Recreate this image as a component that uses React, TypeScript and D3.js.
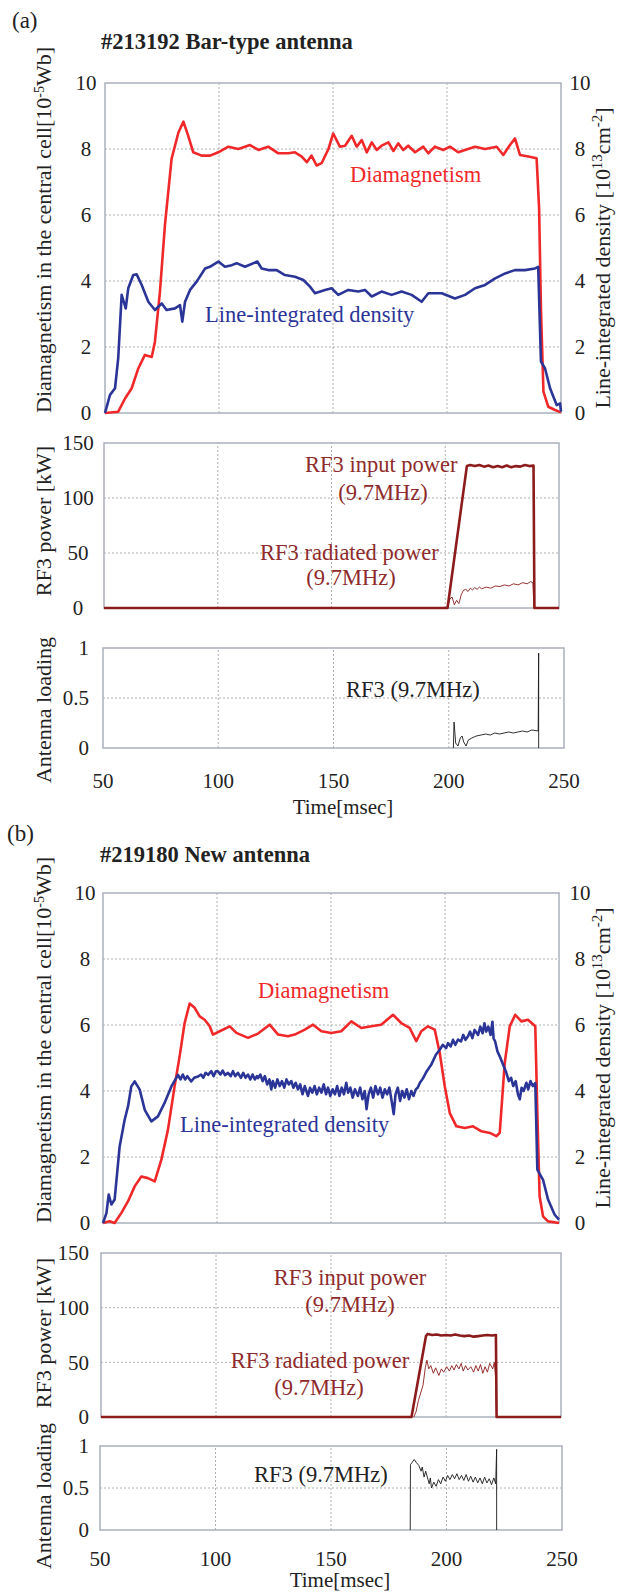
import React from 'react';
import * as d3 from 'd3';

type Pt = [number, number];

// ---- axis ticks ----
const timeTicks = [50, 100, 150, 200, 250];
const fluxTicks = [0, 2, 4, 6, 8, 10];
const powerTicks = [0, 50, 100, 150];
const loadTicks = [0, 0.5, 1];

// ---- (a) #213192 Bar-type antenna ----
const diaA: Pt[] = [
  [50, 0], [55.8, 0.04], [58.8, 0.44], [61.7, 0.75], [64.6, 1.35], [67.5, 1.76], [70.5, 1.7], [71.9, 2.16],
  [74.1, 3.68], [76.3, 5.7], [79.2, 7.7], [82.2, 8.5], [84.4, 8.83], [86.5, 8.4], [88.7, 7.9], [92.4, 7.8],
  [96.1, 7.8], [99.7, 7.9], [104.1, 8.07], [108.5, 8.0], [113.6, 8.12], [117.3, 7.97], [121.6, 8.07], [126, 7.87],
  [130.4, 7.87], [133.3, 7.9], [136.3, 7.77], [138.5, 7.6], [140.6, 7.8], [142.8, 7.5], [145, 7.57], [148, 8.0],
  [150.1, 8.47], [153, 8.07], [155.3, 8.1], [158.2, 8.4], [160.4, 8.07], [162.6, 8.27], [164.8, 7.9], [167, 8.2],
  [169.2, 7.97], [171.3, 8.1], [174.3, 8.2], [176.5, 7.94], [178.6, 8.17], [180.8, 7.97], [183, 8.1], [186, 7.9],
  [189.6, 8.07], [191.8, 7.87], [194.7, 8.07], [198.4, 7.97], [201.3, 8.07], [204.9, 7.9], [207.9, 7.97], [212.3, 8.07],
  [216.7, 8.0], [221.8, 8.07], [224.7, 7.82], [227.6, 8.12], [229.8, 8.32], [232, 7.82], [235.7, 7.77], [239.3, 7.72],
  [240.4, 6.2], [241.2, 3.17], [242.3, 0.65], [244.4, 0.19], [247.4, 0.09], [250, 0.02],
];
const densA: Pt[] = [
  [50, 0], [52.2, 0.55], [54.4, 0.75], [55.8, 1.66], [57.3, 3.58], [59.1, 3.17], [60.2, 3.78], [62.4, 4.18],
  [63.9, 4.2], [66.1, 3.88], [69, 3.37], [71.9, 3.12], [74.9, 3.32], [77, 3.12], [80.7, 3.17], [82.9, 3.27],
  [83.9, 2.77], [85.1, 3.37], [87.3, 3.73], [90.2, 3.98], [93.9, 4.38], [96, 4.43], [99.7, 4.59], [102.6, 4.43],
  [105.6, 4.48], [107.7, 4.54], [111.4, 4.43], [116.8, 4.59], [118.7, 4.38], [121.6, 4.33], [125.3, 4.33], [128.9, 4.18],
  [133.3, 4.13], [137, 4.03], [139.9, 3.83], [142.1, 3.63], [146.5, 3.73], [149.4, 3.78], [152.3, 3.58], [156.7, 3.73],
  [161.1, 3.68], [164, 3.73], [167, 3.53], [171.3, 3.68], [175.7, 3.58], [180.1, 3.68], [184.5, 3.58], [188.9, 3.37],
  [191.8, 3.63], [197.7, 3.63], [203.5, 3.47], [207.9, 3.58], [212.3, 3.78], [216.7, 3.88], [221.1, 4.08], [225.5, 4.23],
  [229.8, 4.33], [234.2, 4.33], [238.6, 4.38], [240, 4.43], [241.2, 1.56], [243, 1.35], [245.2, 0.75], [248.1, 0.24],
  [249.6, 0.29], [250, 0.04],
];
const inputA: Pt[] = [
  [50, 0], [201, 0], [209.5, 129], [211, 130], [213, 129], [215, 130], [217, 128.5], [219, 129.5], [221, 128],
  [223, 129], [225, 128], [227, 129.5], [229, 128], [231, 129], [233, 128.5], [235, 130], [237, 129], [238.8, 129.5],
  [239.2, 0], [250, 0],
];
const radiatedA: Pt[] = [
  [201, 0], [202, 8], [203, 10], [204, 3], [205, 7], [206, 4], [207, 12], [208, 16], [209, 17], [210, 15], [211, 18],
  [212, 16.5], [213, 18.5], [214, 17], [215, 19], [216, 17.5], [218, 19], [220, 18], [222, 20], [224, 19.5], [226, 21],
  [228, 20], [230, 22], [232, 21], [234, 23], [236, 22], [237.5, 24], [238.5, 23], [239, 0],
];
const loadA: Pt[] = [
  [202, 0], [202.3, 0.26], [203, 0.05], [204, 0.02], [205, 0.1], [205.8, 0.12], [206.5, 0.06], [207.5, 0.02],
  [208.5, 0.08], [210, 0.1], [212, 0.12], [214, 0.13], [216, 0.14], [218, 0.13], [220, 0.15], [222, 0.14], [224, 0.15],
  [226, 0.16], [228, 0.15], [230, 0.16], [232, 0.17], [234, 0.16], [236, 0.18], [238.8, 0.17], [239, 0.95], [239, 0],
];

// ---- (b) #219180 New antenna ----
const diaB: Pt[] = [
  [50, 0], [52.9, 0.05], [55.1, 0], [58, 0.3], [61, 0.66], [63.9, 1.11], [66.8, 1.41], [69.7, 1.36], [72.7, 1.26],
  [75.6, 1.92], [78.5, 2.83], [81.4, 4.14], [83.6, 5.05], [85.8, 6.06], [88, 6.65], [90.2, 6.52], [92.4, 6.26],
  [94.6, 6.16], [96.8, 5.96], [98.2, 5.71], [101.2, 5.81], [105.6, 5.96], [108.5, 5.76], [113.6, 5.61], [118, 5.74],
  [123.1, 6.01], [126.8, 5.71], [131.1, 5.66], [134.1, 5.71], [138.5, 5.86], [142.1, 6.01], [145.8, 5.81], [150.1, 5.76],
  [154.5, 5.81], [158.9, 6.11], [163.3, 5.91], [167.7, 5.96], [172, 6.01], [177.2, 6.31], [180.8, 6.06], [184.5, 5.91],
  [187.4, 5.51], [189.6, 5.81], [192.5, 5.96], [195.5, 5.86], [197.7, 5.15], [199.9, 4.14], [202.1, 3.33], [205, 2.93],
  [208.7, 2.88], [212.3, 2.93], [216, 2.78], [219.7, 2.73], [222.5, 2.63], [224, 2.73], [226.2, 4.85], [228.4, 5.96],
  [230.8, 6.31], [233.5, 6.11], [236.4, 6.16], [239.6, 5.96], [240.5, 3.33], [241.5, 0.81], [243, 0.2], [245.2, 0.05],
  [250, 0],
];
const densB: Pt[] = [
  [50, 0], [51.5, 0.3], [52.5, 0.86], [53.7, 0.56], [55.1, 0.71], [57.3, 2.32], [59.5, 3.13], [61, 3.54], [62.4, 4.14],
  [63.9, 4.29], [66.1, 4.04], [68.3, 3.43], [71.2, 3.08], [74.1, 3.23], [77, 3.64], [80, 4.14], [82.9, 4.49], [84, 4.35],
  [85, 4.5], [86, 4.35], [87, 4.45], [88.7, 4.29], [90, 4.4], [91.7, 4.44], [93, 4.5], [94, 4.4], [95, 4.55],
  [96.1, 4.49], [97.5, 4.6], [98.5, 4.45], [99.5, 4.6], [100.4, 4.6], [101.5, 4.5], [102.5, 4.62], [103.5, 4.48],
  [104.8, 4.55], [106, 4.45], [107, 4.6], [108, 4.45], [109.2, 4.55], [110.5, 4.4], [111.5, 4.55], [112.5, 4.4],
  [113.6, 4.5], [114.6, 4.35], [115.6, 4.5], [116.6, 4.35], [117.5, 4.45], [118, 4.39], [119, 4.5], [120, 4.3],
  [121, 4.45], [122, 4.2], [123, 4.35], [123.8, 4.05], [124.5, 4.3], [125.5, 4.1], [126.5, 4.35], [127.5, 4.15],
  [128.5, 4.3], [129.5, 4.1], [130.5, 4.35], [131.5, 4.2], [132.6, 4.3], [133.5, 4.1], [134.5, 4.25], [135.5, 4.05],
  [136.5, 4.2], [137.5, 3.9], [138.5, 4.15], [139.9, 3.85], [140.8, 4.1], [141.8, 3.95], [142.8, 4.15], [143.8, 3.9],
  [144.8, 4.1], [145.8, 3.95], [146.8, 4.2], [147.8, 3.9], [148.7, 4.1], [149.7, 3.85], [150.7, 4.05], [151.7, 3.9],
  [152.7, 4.15], [153.7, 3.85], [154.7, 4.1], [155.7, 3.9], [156.7, 4.25], [157.5, 3.95], [158.5, 4.1], [159.5, 3.8],
  [160.5, 4.05], [161.8, 3.85], [162.8, 4.1], [163.8, 3.75], [164.8, 4.0], [165.6, 3.45], [166.5, 3.9], [167.5, 4.1],
  [168.5, 3.8], [169.5, 4.15], [170.6, 3.9], [171.6, 4.1], [172.6, 3.8], [173.6, 4.05], [174.6, 3.9], [175.6, 4.1],
  [176.6, 3.7], [177.5, 3.3], [178.3, 3.9], [179.3, 4.1], [180.3, 3.7], [181.2, 4.0], [182.2, 3.8], [183.2, 4.05],
  [184.2, 3.75], [185.2, 4.0], [186.2, 3.85], [187.2, 4.05], [188, 4.1], [189, 4.25], [190.4, 4.39], [192, 4.6],
  [194, 4.8], [196, 5.1], [197.7, 5.25], [199, 5.4], [200.5, 5.3], [201.3, 5.45], [202.5, 5.35], [203.5, 5.55],
  [204.5, 5.4], [205.7, 5.56], [207, 5.5], [208, 5.7], [209, 5.55], [210.1, 5.66], [211, 5.8], [212, 5.6], [213, 5.85],
  [214.5, 5.7], [215.5, 5.95], [216.5, 5.75], [217.3, 6.05], [218.1, 5.8], [219, 5.95], [220, 5.7], [220.8, 6.1],
  [221.3, 5.6], [222, 5.5], [223, 5.2], [224, 5.05], [226.9, 4.55], [228, 4.3], [229, 4.4], [229.9, 4.15], [231, 4.3],
  [232, 3.9], [232.8, 3.75], [233.6, 4.1], [234.5, 4.0], [235.7, 4.25], [236.5, 4.05], [237.5, 4.3], [238.5, 4.15],
  [239.6, 4.24], [240.5, 1.62], [243, 1.31], [245.2, 0.71], [248.1, 0.25], [250, 0.1],
];
const inputB: Pt[] = [
  [50, 0], [185, 0], [191.3, 74], [192, 76], [194, 75], [196, 75.5], [198, 74.5], [200, 75], [202, 74.5], [204, 75.5],
  [206, 74.5], [208, 74], [210, 74.5], [212, 73.5], [214, 74], [216, 74.5], [218, 75], [220, 74.5], [221.7, 75],
  [222, 0], [250, 0],
];
const radiatedB: Pt[] = [
  [186, 0], [187, 5], [188, 15], [189, 22], [190, 29], [191, 45], [191.7, 52], [192.5, 44], [193.4, 47], [194.5, 40],
  [195.5, 45], [196.9, 38], [198, 44], [199, 41], [200.3, 46], [201.5, 42], [202.5, 47], [203.5, 43], [204.5, 48],
  [205.6, 44], [206.6, 49], [207.5, 42], [208.5, 47], [209.5, 43], [210.8, 46], [212, 41], [213, 47], [214, 42],
  [215, 48], [216, 40], [217, 46], [218, 41], [219, 49], [220.3, 44], [221, 50], [221.5, 38], [222, 0],
];
const loadB: Pt[] = [
  [184.3, 0], [184.4, 0.78], [185, 0.8], [186, 0.84], [187, 0.8], [188, 0.77], [189, 0.7], [189.5, 0.75], [190.3, 0.63],
  [191, 0.7], [192, 0.6], [192.5, 0.55], [193, 0.62], [193.5, 0.5], [194.5, 0.57], [195.5, 0.52], [196.5, 0.6],
  [197.5, 0.55], [198.5, 0.63], [199.5, 0.58], [200.5, 0.65], [201.5, 0.6], [202.5, 0.66], [203.5, 0.61], [204.5, 0.67],
  [205.5, 0.6], [206.5, 0.65], [207.5, 0.59], [208.5, 0.66], [209.5, 0.58], [210.5, 0.64], [211.5, 0.57], [212.5, 0.63],
  [213.5, 0.56], [214.5, 0.62], [215.5, 0.55], [216.5, 0.63], [217.5, 0.56], [218.5, 0.61], [219.5, 0.54], [220.5, 0.62],
  [221.3, 0.55], [221.7, 0.96], [221.7, 0],
];

const RED = '#f0282a';
const BLUE = '#2b3597';
const DARKRED = '#8c1c1c';
const LABELRED = '#8e2b2b';
const FRAME = '#aab0bc';
const GRID = '#9c9c9c';
const FONT = '"Liberation Serif", "Times New Roman", Times, serif';

type Series = { data: Pt[]; color: string; width: number };

type PanelProps = {
  xr: [number, number];
  yr: [number, number];
  domain: [number, number];
  ticks: number[];
  labelX: number;
  anchor: 'start' | 'middle' | 'end';
  rightX?: number;
  series: Series[];
};

function Panel({ xr, yr, domain, ticks, labelX, anchor, rightX, series }: PanelProps) {
  const x = d3.scaleLinear().domain([50, 250]).range(xr);
  const y = d3.scaleLinear().domain(domain).range(yr);
  const line = d3
    .line<Pt>()
    .x((d) => x(d[0]))
    .y((d) => y(d[1]));
  const inner = ticks.filter((t) => t !== domain[0] && t !== domain[1]);
  return (
    <g>
      {timeTicks.slice(1, -1).map((t) => (
        <line key={'v' + t} x1={x(t)} x2={x(t)} y1={yr[0]} y2={yr[1]} stroke={GRID} strokeWidth={0.8} strokeDasharray="2,2" />
      ))}
      {inner.map((t) => (
        <line key={'h' + t} x1={xr[0]} x2={xr[1]} y1={y(t)} y2={y(t)} stroke={GRID} strokeWidth={0.8} strokeDasharray="2,2" />
      ))}
      <rect x={xr[0]} y={yr[1]} width={xr[1] - xr[0]} height={yr[0] - yr[1]} fill="none" stroke={FRAME} strokeWidth={1.5} />
      {series.map((s, i) => (
        <path key={i} d={line(s.data) || ''} fill="none" stroke={s.color} strokeWidth={s.width} strokeLinejoin="round" />
      ))}
      {ticks.map((t) => (
        <text key={'l' + t} x={labelX} y={y(t)} dy="0.35em" textAnchor={anchor} fontSize={21} fill="#222">
          {d3.format('~g')(t)}
        </text>
      ))}
      {rightX !== undefined &&
        ticks.map((t) => (
          <text key={'r' + t} x={rightX} y={y(t)} dy="0.35em" textAnchor="middle" fontSize={21} fill="#222">
            {d3.format('~g')(t)}
          </text>
        ))}
    </g>
  );
}

function VText({ x, y, children }: { x: number; y: number; children: React.ReactNode }) {
  return (
    <text transform={`translate(${x},${y}) rotate(-90)`} textAnchor="middle" fontSize={22} fill="#222">
      {children}
    </text>
  );
}

function TimeAxis({ xr, y, titleY, titleX }: { xr: [number, number]; y: number; titleY: number; titleX: number }) {
  const x = d3.scaleLinear().domain([50, 250]).range(xr);
  return (
    <g fill="#222">
      {timeTicks.map((t) => (
        <text key={t} x={x(t)} y={y} textAnchor="middle" fontSize={21}>
          {t}
        </text>
      ))}
      <text x={titleX} y={titleY} textAnchor="middle" fontSize={21}>
        Time[msec]
      </text>
    </g>
  );
}

const fluxTitle = (
  <>
    Diamagnetism in the central cell[10<tspan dy={-7} fontSize={14}>-5</tspan>
    <tspan dy={7}>Wb]</tspan>
  </>
);
const densTitle = (
  <>
    Line-integrated density [10<tspan dy={-8} fontSize={15}>13</tspan>
    <tspan dy={8}>cm</tspan>
    <tspan dy={-8} fontSize={15}>-2</tspan>
    <tspan dy={8}>]</tspan>
  </>
);

export default function App() {
  return (
    <svg
      width={621}
      height={1593}
      style={{ position: 'absolute', left: 0, top: 0, background: '#fff' }}
      fontFamily={FONT}
    >
      {/* ---------- (a) ---------- */}
      <text x={12} y={28} fontSize={23} fill="#222">(a)</text>
      <text x={101} y={49} fontSize={22.5} fontWeight="bold" fill="#222">#213192 Bar-type antenna</text>

      <Panel xr={[105, 561]} yr={[413, 83]} domain={[0, 10]} ticks={fluxTicks} labelX={86} anchor="middle" rightX={580}
        series={[{ data: diaA, color: RED, width: 2.6 }, { data: densA, color: BLUE, width: 2.6 }]} />
      <text x={350} y={182} fontSize={22.5} fill={RED}>Diamagnetism</text>
      <text x={205} y={322} fontSize={22.5} fill={BLUE}>Line-integrated density</text>

      <Panel xr={[104, 559]} yr={[608, 443]} domain={[0, 150]} ticks={powerTicks} labelX={78} anchor="middle"
        series={[{ data: radiatedA, color: DARKRED, width: 0.9 }, { data: inputA, color: DARKRED, width: 2.6 }]} />
      <g fontSize={22.5} fill={LABELRED}>
        <text x={305} y={472}>RF3 input power</text>
        <text x={383} y={500} textAnchor="middle">(9.7MHz)</text>
        <text x={260} y={560}>RF3 radiated power</text>
        <text x={351} y={585} textAnchor="middle">(9.7MHz)</text>
      </g>

      <Panel xr={[103, 564]} yr={[748, 648]} domain={[0, 1]} ticks={loadTicks} labelX={89} anchor="end"
        series={[{ data: loadA, color: '#1a1a1a', width: 0.9 }]} />
      <text x={346} y={697} fontSize={22.5} fill="#222">RF3 (9.7MHz)</text>

      <TimeAxis xr={[103, 564]} y={788} titleX={343} titleY={814} />

      <VText x={51} y={230}>{fluxTitle}</VText>
      <VText x={51} y={521}>RF3 power [kW]</VText>
      <VText x={51} y={710}>Antenna loading</VText>
      <VText x={610} y={258}>{densTitle}</VText>

      {/* ---------- (b) ---------- */}
      <text x={7} y={841} fontSize={23} fill="#222">(b)</text>
      <text x={100} y={862} fontSize={22.5} fontWeight="bold" fill="#222">#219180 New antenna</text>

      <Panel xr={[103, 559]} yr={[1223, 893]} domain={[0, 10]} ticks={fluxTicks} labelX={85} anchor="middle" rightX={580}
        series={[{ data: diaB, color: RED, width: 2.6 }, { data: densB, color: BLUE, width: 2.6 }]} />
      <text x={258} y={998} fontSize={22.5} fill={RED}>Diamagnetism</text>
      <text x={180} y={1132} fontSize={22.5} fill={BLUE}>Line-integrated density</text>

      <Panel xr={[101, 561]} yr={[1417, 1253]} domain={[0, 150]} ticks={powerTicks} labelX={89} anchor="end"
        series={[{ data: radiatedB, color: DARKRED, width: 0.9 }, { data: inputB, color: DARKRED, width: 2.6 }]} />
      <g fontSize={22.5} fill={LABELRED} textAnchor="middle">
        <text x={350} y={1285}>RF3 input power</text>
        <text x={350} y={1312}>(9.7MHz)</text>
        <text x={320} y={1368}>RF3 radiated power</text>
        <text x={319} y={1395}>(9.7MHz)</text>
      </g>

      <Panel xr={[100, 562]} yr={[1530, 1446]} domain={[0, 1]} ticks={loadTicks} labelX={89} anchor="end"
        series={[{ data: loadB, color: '#1a1a1a', width: 0.9 }]} />
      <text x={254} y={1482} fontSize={22.5} fill="#222">RF3 (9.7MHz)</text>

      <TimeAxis xr={[100, 562]} y={1566} titleX={340} titleY={1587} />

      <VText x={51} y={1040}>{fluxTitle}</VText>
      <VText x={51} y={1333}>RF3 power [kW]</VText>
      <VText x={51} y={1496}>Antenna loading</VText>
      <VText x={610} y={1058}>{densTitle}</VText>
    </svg>
  );
}
